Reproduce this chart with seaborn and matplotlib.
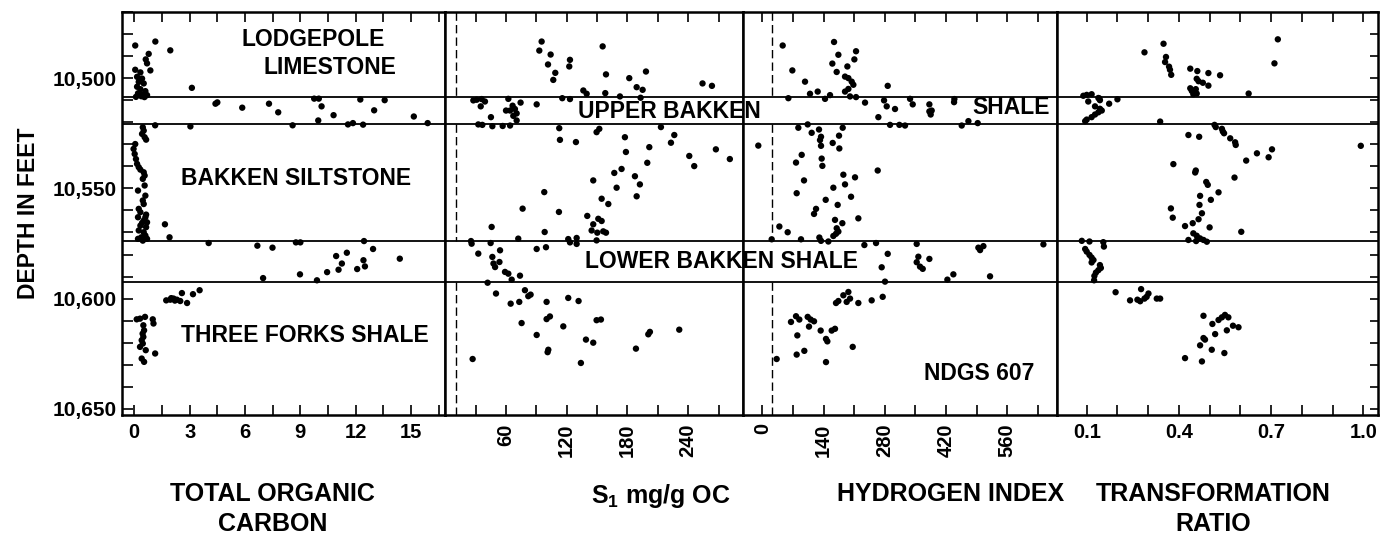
import numpy as np
import pandas as pd
import matplotlib
matplotlib.use("Agg")
import matplotlib.pyplot as plt
import seaborn as sns
from matplotlib.ticker import FixedLocator, FixedFormatter, MultipleLocator

sns.set_theme(style="white")
plt.rcParams['font.family'] = ['Liberation Sans', 'DejaVu Sans']
plt.rcParams['font.weight'] = 'bold'
plt.rcParams['text.color'] = 'black'
plt.rcParams['axes.labelcolor'] = 'black'
plt.rcParams['xtick.color'] = 'black'
plt.rcParams['ytick.color'] = 'black'
plt.rcParams['axes.edgecolor'] = 'black'
plt.rcParams['mathtext.fontset'] = 'custom'
plt.rcParams['mathtext.rm'] = 'Liberation Sans:bold'
plt.rcParams['mathtext.it'] = 'Liberation Sans:bold'
plt.rcParams['mathtext.bf'] = 'Liberation Sans:bold'

# ---------------- data ----------------
# formation contacts (depth, ft)
contacts = [10508.5, 10520.7, 10573.8, 10592.6]

# Total organic carbon (wt %)
toc_value = [0.05, 1.14, 1.95, 0.78, 0.62, 0.69, 0.87, 0.05, 0.33, 0.15, 0.42, 0.24, 0.51, 0.15,
             0.33, 0.6, 0.2, 0.46, 0.69, 0.09, 0.38, 0.55, 3.12,
             4.4, 4.5, 5.85, 7.3, 7.8, 9.75, 10.0, 10.15, 10.8, 9.97, 12.25, 13.57, 13.0, 15.15,
             11.85, 11.58, 12.4, 15.9, 8.58, 3.04, 1.13,
             0.46, 0.51, 0.42, 0.56, 0.64, 0.05, -0.04, 0.02, 0.09, 0.15, 0.24, 0.33, 0.51, 0.56,
             0.46, 0.56, 0.2, 0.6, 0.46, 0.51, 0.24, 0.33, 0.64, 0.6, 0.2, 0.51, 0.69, 0.42, 0.33,
             0.64, 0.24, 0.51, 0.6, 0.38, 0.2, 0.46, 0.69, 1.66, 1.91,
             4.03, 6.67, 7.49, 8.76, 9.0, 12.45, 12.94, 10.94, 11.52, 11.25, 11.07, 12.08, 12.42,
             12.5, 14.39, 8.98, 10.45, 6.98, 9.9,
             1.73, 1.95, 2.13, 2.31, 2.49, 2.58, 2.86, 3.18, 3.54, 2.0, 2.2,
             0.13, 0.31, 0.58, 0.49, 0.53, 0.49, 0.46, 0.31, 1.0, 1.04, 0.62, 1.13, 0.4, 0.53,
             0.45, 0.4]
toc_depth = [10485.2, 10483.4, 10487.4, 10489.0, 10491.5, 10493.3, 10496.5, 10496.2, 10497.4,
             10499.4, 10500.2, 10501.7, 10502.4, 10503.9, 10505.0, 10505.9, 10506.9, 10507.4,
             10507.7, 10508.5, 10508.2, 10508.6, 10504.4,
             10511.6, 10511.0, 10513.4, 10511.6, 10515.5, 10509.3, 10509.3, 10512.8, 10516.8,
             10519.2, 10509.7, 10510.0, 10514.6, 10517.4, 10520.4, 10521.0, 10521.1, 10520.4,
             10521.4, 10521.9, 10521.4,
             10522.3, 10523.8, 10525.3, 10526.8, 10527.9, 10529.9, 10532.1, 10534.4, 10536.7,
             10538.9, 10540.4, 10541.5, 10542.7, 10544.2, 10545.7, 10548.7, 10551.0, 10553.3,
             10555.5, 10557.1, 10559.3, 10560.8, 10561.9, 10563.1, 10563.1, 10564.6, 10565.4,
             10565.7, 10566.9, 10567.6, 10569.1, 10569.9, 10571.4, 10572.2, 10572.9, 10573.7,
             10572.9, 10566.3, 10572.2,
             10574.8, 10576.0, 10576.9, 10574.5, 10574.5, 10573.9, 10577.5, 10580.7, 10579.2,
             10584.1, 10586.9, 10586.6, 10582.6, 10585.4, 10581.9, 10589.0, 10588.0, 10590.7,
             10591.7,
             10600.8, 10600.5, 10600.0, 10600.5, 10601.1, 10597.5, 10602.0, 10598.0, 10596.2,
             10599.8, 10600.9,
             10609.4, 10609.1, 10608.3, 10612.1, 10614.4, 10617.4, 10620.4, 10621.9, 10609.4,
             10611.3, 10623.4, 10624.9, 10627.2, 10628.7, 10615.9, 10618.9]

# S1 (mg/g organic carbon)
s1_value = [95.2, 92.9, 104.1, 101.5, 108.7, 106.7, 155.5, 123.2, 122.5, 158.8, 181.8, 198.3,
            189.1, 195.0, 254.2, 263.5, 136.4, 139.7, 158.1, 172.6, 193.0,
            27.7, 31.0, 35.9, 39.2, 35.0, 62.3, 66.5, 68.8, 70.5, 67.2, 74.4, 60.0, 64.0, 45.1,
            90.3, 115.6, 123.2, 32.6, 36.6, 46.5, 56.7, 64.0, 70.5,
            112.6, 149.5, 152.2, 113.3, 129.1, 177.5, 213.1, 226.3, 223.0, 201.6, 178.5, 199.6,
            241.1, 246.0, 267.4, 281.2, 174.2, 167.0, 187.4, 192.3, 169.3, 189.1, 146.2, 154.5,
            161.1, 97.8, 76.4, 112.3, 140.3, 151.2, 154.5, 146.2, 144.6, 156.1, 158.8, 150.2,
            149.5, 45.8, 98.2, 72.1,
            25.4, 26.0, 44.8, 121.5, 123.2, 129.8, 129.8, 90.3, 99.5, 32.6, 46.5, 54.1, 47.6,
            49.2, 53.5, 59.0, 62.3, 65.6, 73.8, 41.8,
            50.1, 64.6, 73.1, 78.7, 82.0, 84.3, 100.1, 121.5, 131.7, 75.4, 100.1, 103.4, 116.6,
            90.3, 149.5, 153.8, 139.0, 146.2, 188.4, 202.2, 200.6, 231.2, 101.1, 101.8, 134.0,
            27.0]
s1_depth = [10483.4, 10487.5, 10489.3, 10493.8, 10497.6, 10500.8, 10485.6, 10491.7, 10494.7,
            10498.3, 10500.0, 10497.0, 10504.1, 10505.3, 10502.4, 10503.5, 10505.6, 10507.1,
            10506.8, 10508.3, 10508.9,
            10510.1, 10509.8, 10509.5, 10510.6, 10512.8, 10509.4, 10512.5, 10514.0, 10516.0,
            10517.1, 10511.1, 10514.7, 10514.7, 10517.7, 10511.9, 10509.1, 10509.5, 10521.0,
            10521.2, 10521.8, 10521.7, 10521.5, 10519.2,
            10522.7, 10524.5, 10523.0, 10528.0, 10529.0, 10526.8, 10522.2, 10525.8, 10529.3,
            10531.3, 10533.5, 10538.4, 10535.3, 10539.9, 10532.3, 10536.7, 10541.2, 10543.0,
            10544.5, 10548.2, 10549.7, 10553.6, 10546.4, 10554.7, 10557.1, 10551.7, 10559.2,
            10560.7, 10562.5, 10563.8, 10564.8, 10566.3, 10569.1, 10569.5, 10570.1, 10570.1,
            10573.6, 10567.5, 10569.8, 10572.8,
            10573.9, 10575.1, 10574.8, 10573.0, 10574.5, 10572.5, 10575.2, 10577.5, 10576.7,
            10579.6, 10581.1, 10578.1, 10584.1, 10585.7, 10583.4, 10587.9, 10588.7, 10591.4,
            10589.6, 10592.8,
            10597.7, 10602.3, 10601.5, 10596.2, 10598.9, 10598.2, 10601.5, 10599.7, 10601.1,
            10611.1, 10609.3, 10608.1, 10612.6, 10616.5, 10609.8, 10609.5, 10618.6, 10620.0,
            10622.7, 10615.1, 10616.2, 10614.1, 10624.3, 10623.2, 10629.2, 10627.4]

# Hydrogen index
hi_value = [46.4, 163.9, 173.8, 214.2, 210.4, 160.0, 68.5, 169.9, 194.4, 97.5, 189.0, 196.7,
            204.3, 208.1, 196.7, 189.0, 126.5, 286.7, 154.7, 143.3, 108.9, 200.5, 214.2, 59.4,
            234.8, 278.3, 284.4, 303.4, 337.8, 343.9, 382.0, 382.0, 387.3, 385.0, 439.2, 438.5,
            265.3, 292.0, 313.4, 326.3, 456.0, 471.3, 492.6,
            -9.4, 82.2, 103.6, 112.7, 129.5, 134.1, 131.8, 134.1, 160.8, 175.3, 176.0, 183.7,
            89.9, 76.9, 135.6, 137.2, 263.8, 185.2, 211.9, 95.2, 162.3, 189.0, 78.4, 202.8,
            144.8, 172.2, 122.7, 118.1, 219.5, 166.1, 182.9, 170.0, 173.8, 168.4, 162.3, 38.8,
            57.8, 88.3, 130.3, 134.1, 21.2, 150.9,
            233.3, 260.0, 353.0, 286.7, 272.9, 280.5, 356.8, 382.0, 353.0, 360.6, 366.8, 494.1,
            498.0, 505.6, 642.9, 436.9, 423.2, 520.8,
            185.2, 196.7, 200.5, 192.8, 168.4, 173.8, 219.5, 250.0, 275.2, 65.4, 76.9, 84.5,
            103.6, 110.4, 118.1, 106.6, 133.3, 158.5, 166.1, 145.5, 148.6, 79.9, 95.9, 78.4,
            206.6, 145.5, 32.6]
hi_depth = [10485.2, 10483.6, 10489.4, 10487.8, 10491.5, 10493.4, 10496.5, 10497.2, 10494.7,
            10501.6, 10499.3, 10500.0, 10501.6, 10503.0, 10504.9, 10506.1, 10506.1, 10503.5,
            10507.7, 10509.4, 10507.1, 10508.3, 10508.6, 10509.1,
            10511.1, 10510.1, 10512.8, 10514.0, 10509.4, 10511.9, 10511.9, 10515.1, 10514.7,
            10516.5, 10509.5, 10510.9, 10517.7, 10521.2, 10521.2, 10521.5, 10521.5, 10519.5,
            10520.4,
            10530.6, 10522.5, 10521.0, 10524.8, 10523.3, 10526.6, 10528.1, 10530.7, 10529.4,
            10526.1, 10531.9, 10522.5, 10534.8, 10538.3, 10536.5, 10539.8, 10541.9, 10543.8,
            10545.0, 10546.4, 10549.7, 10548.2, 10552.2, 10553.8, 10555.2, 10557.5, 10559.3,
            10561.6, 10563.6, 10564.3, 10565.8, 10568.1, 10569.6, 10570.6, 10571.6, 10567.3,
            10569.9, 10573.1, 10572.3, 10573.8, 10573.1, 10574.1,
            10575.7, 10574.8, 10575.2, 10579.7, 10585.8, 10592.3, 10581.0, 10582.0, 10583.5,
            10585.5, 10586.5, 10576.9, 10578.0, 10576.2, 10575.4, 10589.0, 10591.4, 10589.9,
            10598.5, 10597.0, 10600.0, 10601.5, 10602.0, 10601.1, 10602.0, 10600.8, 10599.2,
            10610.6, 10608.0, 10609.5, 10608.3, 10609.5, 10610.3, 10612.7, 10614.5, 10614.5,
            10613.7, 10618.3, 10619.4, 10616.7, 10623.7, 10625.4, 10621.9, 10628.8, 10627.4]

# Transformation ratio
tr_value = [0.350, 0.288, 0.358, 0.355, 0.368, 0.371, 0.375, 0.722, 0.711, 0.437, 0.460, 0.496,
            0.534, 0.458, 0.464, 0.478, 0.496, 0.437, 0.442, 0.447, 0.458, 0.455, 0.627,
            0.089, 0.100, 0.116, 0.138, 0.143, 0.141, 0.105, 0.173, 0.200, 0.127, 0.143, 0.149,
            0.138, 0.127, 0.116, 0.100, 0.095, 0.339,
            0.516, 0.520, 0.540, 0.543, 0.547, 0.567, 0.583, 0.585, 0.431, 0.466, 0.992, 0.703,
            0.654, 0.619, 0.692, 0.382, 0.455, 0.453, 0.581, 0.489, 0.494, 0.529, 0.469, 0.504,
            0.374, 0.467, 0.475, 0.380, 0.420, 0.445, 0.464, 0.500, 0.603, 0.447, 0.458, 0.469,
            0.480, 0.491, 0.456, 0.431,
            0.084, 0.109, 0.154, 0.156, 0.095, 0.100, 0.109, 0.116, 0.122, 0.143, 0.146, 0.138,
            0.130, 0.125, 0.124, 0.116,
            0.194, 0.277, 0.241, 0.265, 0.274, 0.288, 0.301, 0.295, 0.328, 0.339, 0.480, 0.509,
            0.529, 0.540, 0.550, 0.561, 0.576, 0.594, 0.556, 0.518, 0.485, 0.480, 0.469, 0.507,
            0.548, 0.420, 0.475]
tr_depth = [10484.4, 10488.3, 10490.4, 10492.7, 10494.8, 10496.2, 10498.5, 10482.4, 10493.3,
            10495.7, 10496.8, 10497.7, 10498.7, 10500.3, 10501.4, 10502.1, 10503.4, 10504.6,
            10505.8, 10507.3, 10507.0, 10505.0, 10507.0,
            10508.0, 10507.6, 10507.3, 10509.0, 10510.0, 10509.2, 10510.6, 10511.6, 10509.6,
            10512.8, 10513.9, 10514.7, 10515.5, 10516.5, 10517.7, 10518.8, 10519.5, 10519.7,
            10521.2, 10522.2, 10523.0, 10524.2, 10525.0, 10527.3, 10529.1, 10530.3, 10525.8,
            10526.6, 10530.7, 10532.3, 10534.1, 10537.4, 10535.9, 10539.0, 10541.9, 10542.8,
            10545.1, 10547.1, 10548.4, 10551.8, 10553.4, 10555.2, 10559.1, 10557.5, 10561.3,
            10563.3, 10567.1, 10565.8, 10564.0, 10567.7, 10569.7, 10570.4, 10571.5, 10572.7,
            10573.4, 10574.2, 10573.9, 10573.4,
            10573.8, 10574.1, 10574.4, 10576.4, 10577.5, 10578.7, 10580.2, 10581.4, 10582.5,
            10584.8, 10586.1, 10587.1, 10588.2, 10589.7, 10591.7, 10583.6,
            10597.1, 10595.7, 10600.8, 10600.5, 10601.2, 10600.0, 10597.7, 10599.2, 10600.0,
            10600.0, 10607.8, 10611.5, 10609.7, 10608.5, 10607.4, 10608.5, 10612.3, 10613.0,
            10614.4, 10616.1, 10618.6, 10617.9, 10621.2, 10623.2, 10624.7, 10627.0, 10628.5]

# axis ticks and labels
depth_ticks = [10500, 10550, 10600, 10650]
depth_labels = ["10,500", "10,550", "10,600", "10,650"]
toc_ticks = [0, 1.5, 3, 4.5, 6, 7.5, 9, 10.5, 12, 13.5, 15, 16.5]
toc_labels = ["0", "", "3", "", "6", "", "9", "", "12", "", "15", ""]
s1_ticks = [30, 60, 90, 120, 150, 180, 210, 240, 270]
s1_labels = ["", "60", "", "120", "", "180", "", "240", ""]
hi_ticks = [0, 70, 140, 210, 280, 350, 420, 490, 560, 630]
hi_labels = ["0", "", "140", "", "280", "", "420", "", "560", ""]
tr_ticks = [0.1, 0.2, 0.3, 0.4, 0.5, 0.6, 0.7, 0.8, 0.9, 1.0]
tr_labels = ["0.1", "", "", "0.4", "", "", "0.7", "", "", "1.0"]

panel_titles = ["TOTAL ORGANIC\nCARBON", "S$_1$ mg/g OC", "HYDROGEN INDEX", "TRANSFORMATION\nRATIO"]
cutoff_s1 = 10.6
cutoff_hi = 21.3

# ---------------- figure ----------------
W, H = 1380, 533
fig, axes = plt.subplots(1, 4, sharey=True, figsize=(W / 100, H / 100), dpi=100,
                         gridspec_kw=dict(width_ratios=[323, 298, 314, 321], wspace=0))
fig.subplots_adjust(left=122 / W, right=1378 / W, top=1 - 12 / H, bottom=1 - 415 / H)

panels = [
    (toc_value, toc_depth, (-0.667, 16.84), toc_ticks, toc_labels, 0),
    (s1_value, s1_depth, (-0.3, 294.2), s1_ticks, s1_labels, 90),
    (hi_value, hi_depth, (-44.4, 674.0), hi_ticks, hi_labels, 90),
    (tr_value, tr_depth, (0.0033, 1.048), tr_ticks, tr_labels, 0),
]
label_x = [0.467, 0.725, 0.662, 0.486]

for i, (ax, (vals, deps, xlim, ticks, labels, rot)) in enumerate(zip(axes, panels)):
    df = pd.DataFrame({"value": vals, "depth": deps})
    sns.scatterplot(data=df, x="value", y="depth", ax=ax, color="black", s=21,
                    linewidth=0, edgecolor="none", zorder=3)
    ax.set_xlim(*xlim)
    ax.xaxis.set_major_locator(FixedLocator(ticks))
    ax.xaxis.set_major_formatter(FixedFormatter(labels))
    ax.tick_params(axis="x", which="both", direction="in", top=True, bottom=True,
                   length=7, width=1.2, labelsize=14.5, pad=6, labelrotation=rot, colors="black")
    for c in contacts:
        ax.axhline(c, color="black", lw=1.3, zorder=2)
    for sp in ax.spines.values():
        sp.set_color("black")
        sp.set_linewidth(1.8)
    ax.set_xlabel(panel_titles[i], fontsize=18, fontweight="bold", linespacing=1.3,
                  color="black")
    ax.xaxis.set_label_coords(label_x[i], -0.166)
    ax.xaxis.label.set_verticalalignment("top")
    ax.grid(False)

ax1, ax2, ax3, ax4 = axes
ax1.set_ylim(10652.8, 10470)
ax1.yaxis.set_major_locator(FixedLocator(depth_ticks))
ax1.yaxis.set_major_formatter(FixedFormatter(depth_labels))
ax1.yaxis.set_minor_locator(MultipleLocator(10))
ax1.tick_params(axis="y", which="both", direction="in", left=True, right=False,
                length=8, width=1.2, labelsize=15, pad=4, colors="black")
for ax in (ax2, ax3):
    ax.tick_params(axis="y", which="both", left=False, right=False)
    ax.set_ylabel("")
ax4.tick_params(axis="y", which="both", direction="in", left=False, right=True,
                labelleft=False, length=6, width=1.2, colors="black")
ax4.set_ylabel("")
ax1.set_ylabel("DEPTH IN FEET", fontsize=16.5, fontweight="bold", color="black")
ax1.yaxis.set_label_coords(-0.255, 0.5)

# dashed cut-off lines (interrupted in the shale bands)
seg_top = [10470, contacts[1], contacts[3]]
seg_bot = [contacts[0], contacts[2], 10652.8]
ax2.vlines([cutoff_s1] * 3, seg_top, seg_bot, colors="black", linestyles=(0, (6, 3)), lw=1.0)
ax3.vlines([cutoff_hi] * 3, seg_top, seg_bot, colors="black", linestyles=(0, (6, 3)), lw=1.0)

# formation names
notes = [("LODGEPOLE", 313, 40), ("LIMESTONE", 330, 68), ("BAKKEN SILTSTONE", 296, 179),
         ("THREE FORKS SHALE", 305, 336), ("UPPER BAKKEN", 669, 111), ("SHALE", 1011, 108),
         ("LOWER BAKKEN SHALE", 721, 261), ("NDGS 607", 979, 374)]
for s, x, y in notes:
    fig.text(x / W, 1 - y / H, s, ha="center", va="center", fontsize=16.5, fontweight="bold",
             color="black")

fig.savefig("out.png", dpi=100, facecolor="white")
